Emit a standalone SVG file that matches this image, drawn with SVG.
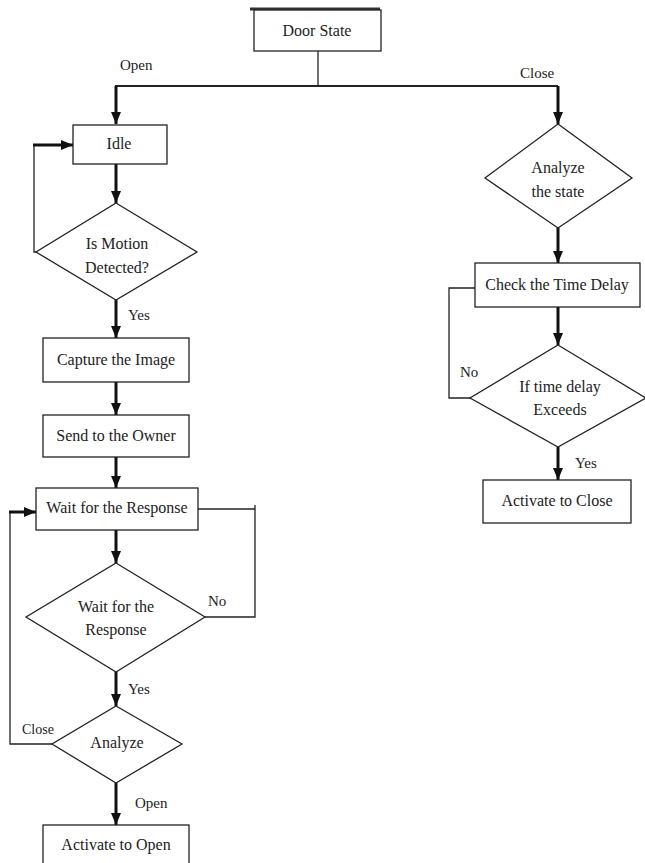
<svg xmlns="http://www.w3.org/2000/svg" width="645" height="863" viewBox="0 0 645 863">
<style>
.box{fill:#fff;stroke:#222;stroke-width:1.3}
.t{font-family:"Liberation Serif","Times New Roman",serif;font-size:16px;fill:#222;text-anchor:middle}
.l{font-family:"Liberation Serif","Times New Roman",serif;font-size:15px;fill:#222}
.thin{fill:none;stroke:#222;stroke-width:1.3}
.arr{fill:none;stroke:#111;stroke-width:3;marker-end:url(#ah)}
</style>
<defs>
<marker id="ah" viewBox="0 0 12 10" refX="12" refY="5" markerWidth="12" markerHeight="10" markerUnits="userSpaceOnUse" orient="auto">
<path d="M0,0 L12,5 L0,10 z" fill="#111"/>
</marker>
</defs>
<rect width="645" height="863" fill="#fff"/>
<g id="connectors">
<line x1="250" y1="9" x2="380" y2="9" stroke="#333" stroke-width="3"/>
<line class="thin" x1="318" y1="51" x2="318" y2="86"/>
<line x1="115" y1="86" x2="558" y2="86" stroke="#222" stroke-width="2"/>
<line class="arr" x1="116" y1="86" x2="116" y2="124"/>
<line class="arr" x1="558" y1="86" x2="558" y2="124"/>
<line class="arr" x1="116" y1="164" x2="116" y2="203"/>
<polyline class="thin" points="36,252 34,252 34,145"/>
<line class="arr" x1="33" y1="145" x2="73" y2="145"/>
<line class="arr" x1="116" y1="300" x2="116" y2="338"/>
<line class="arr" x1="116" y1="382" x2="116" y2="415"/>
<line class="arr" x1="116" y1="457" x2="116" y2="488"/>
<line class="arr" x1="116" y1="530" x2="116" y2="563"/>
<polyline class="thin" points="205,617 255,617 255,505"/>
<line class="thin" x1="198" y1="509" x2="255" y2="509"/>
<line class="arr" x1="116" y1="672" x2="116" y2="706"/>
<polyline class="thin" points="52,744 10,744 10,512"/>
<line class="arr" x1="9" y1="512" x2="36" y2="512"/>
<line class="arr" x1="116" y1="783" x2="116" y2="825"/>
<line class="arr" x1="558" y1="228" x2="558" y2="263"/>
<line class="arr" x1="558" y1="307" x2="558" y2="345"/>
<polyline class="thin" points="470,398 449,398 449,288 475,288"/>
<line class="arr" x1="558" y1="447" x2="558" y2="480"/>
<text class="l" x="120" y="70">Open</text>
<text class="l" x="520" y="78">Close</text>
<text class="l" x="128" y="320">Yes</text>
<text class="l" x="208" y="606">No</text>
<text class="l" x="128" y="694">Yes</text>
<text class="l" x="22" y="734" style="font-size:14px">Close</text>
<text class="l" x="135" y="808">Open</text>
<text class="l" x="460" y="377">No</text>
<text class="l" x="575" y="468">Yes</text>
</g>
<g id="door-state">
<rect class="box" x="254" y="10" width="127" height="41"/>
<text class="t" x="317" y="36">Door State</text>
</g>
<g id="idle">
<rect class="box" x="73" y="125" width="94" height="39"/>
<text class="t" x="119" y="149">Idle</text>
</g>
<g id="motion">
<polygon class="box" points="116,203 197,252 116,300 36,252"/>
<text class="t" x="117" y="249">Is Motion</text>
<text class="t" x="117" y="273">Detected?</text>
</g>
<g id="capture">
<rect class="box" x="43" y="338" width="146" height="44"/>
<text class="t" x="116" y="365">Capture the Image</text>
</g>
<g id="send">
<rect class="box" x="43" y="415" width="146" height="42"/>
<text class="t" x="116" y="441">Send to the Owner</text>
</g>
<g id="wait-box">
<rect class="box" x="36" y="488" width="162" height="42"/>
<text class="t" x="117" y="513">Wait for the Response</text>
</g>
<g id="wait-diamond">
<polygon class="box" points="116,563 205,617 116,672 26,617"/>
<text class="t" x="116" y="612">Wait for the</text>
<text class="t" x="116" y="635">Response</text>
</g>
<g id="analyze">
<polygon class="box" points="116,706 182,744 116,783 52,744"/>
<text class="t" x="117" y="748">Analyze</text>
</g>
<g id="activate-open">
<rect class="box" x="43" y="825" width="146" height="42"/>
<text class="t" x="116" y="850">Activate to Open</text>
</g>
<g id="analyze-state">
<polygon class="box" points="558,124 632,178 558,228 485,178"/>
<text class="t" x="558" y="173">Analyze</text>
<text class="t" x="558" y="197">the state</text>
</g>
<g id="check-delay">
<rect class="box" x="475" y="263" width="165" height="44"/>
<text class="t" x="557" y="290">Check the Time Delay</text>
</g>
<g id="delay-exceeds">
<polygon class="box" points="558,345 646,398 558,447 470,398"/>
<text class="t" x="560" y="392">If time delay</text>
<text class="t" x="560" y="415">Exceeds</text>
</g>
<g id="activate-close">
<rect class="box" x="483" y="480" width="148" height="43"/>
<text class="t" x="557" y="506">Activate to Close</text>
</g>
</svg>
